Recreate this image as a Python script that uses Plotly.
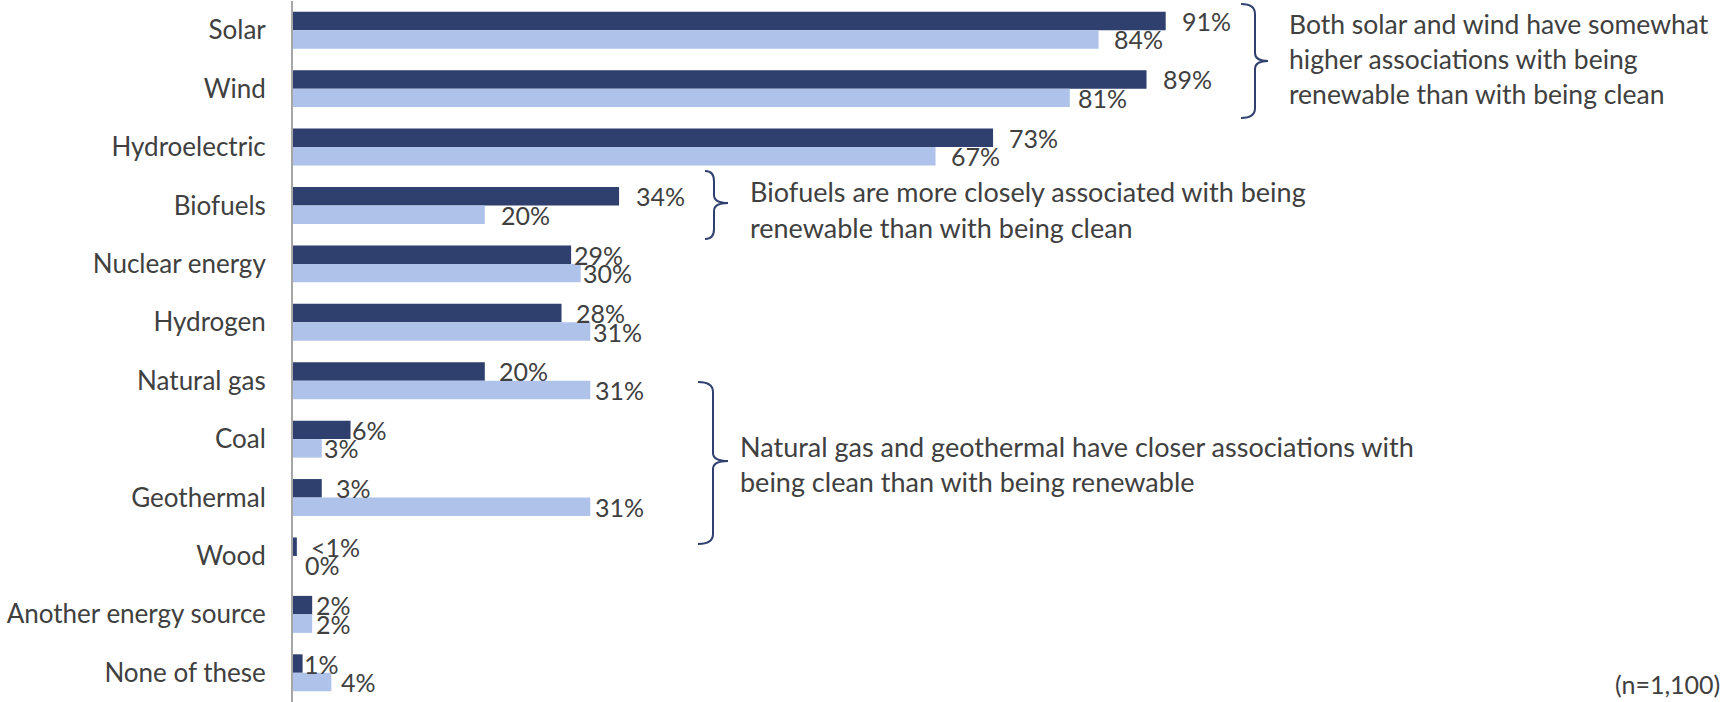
import plotly.graph_objects as go

# ---------------- data ----------------
categories = ["Solar", "Wind", "Hydroelectric", "Biofuels", "Nuclear energy", "Hydrogen",
              "Natural gas", "Coal", "Geothermal", "Wood", "Another energy source", "None of these"]
renewable = [91, 89, 73, 34, 29, 28, 20, 6, 3, 0.4, 2, 1]
renewable_labels = ["91%", "89%", "73%", "34%", "29%", "28%", "20%", "6%", "3%", "<1%", "2%", "1%"]
clean = [84, 81, 67, 20, 30, 31, 31, 3, 31, 0, 2, 4]
clean_labels = ["84%", "81%", "67%", "20%", "30%", "31%", "31%", "3%", "31%", "0%", "2%", "4%"]

note_solar_wind = ["Both solar and wind have somewhat",
                   "higher associations with being",
                   "renewable than with being clean"]
note_biofuels = ["Biofuels are more closely associated with being",
                 "renewable than with being clean"]
note_gas_geo = ["Natural gas and geothermal have closer associations with",
                "being clean than with being renewable"]
sample_note = "(n=1,100)"

# ---------------- style ----------------
W, H = 1730, 702
DARK = "#2F3F6E"
LIGHT = "#AEC2EA"
TXT = "#404040"
FONT = "Lato"
ML, MR, MT, MB = 293, 478, 1, 0
PW, PH = W - ML - MR, H - MT - MB
BARGAP = 0.367
BAR_PX = PH / len(categories) * (1 - BARGAP) / 2

# label gaps (px) between bar end and its value label, as placed in the original
renewable_gap = [15, 15, 15, 16, 2, 13, 13, 0, 13, 13, 3, 0]
clean_gap = [14, 7, 14, 15, 1, 2, 4, 1, 4, 11, 3, 9]


def px2paper(x, y):
    return (x - ML) / PW, 1 - (y - MT) / PH


def brace_path(xl, xm, xt, yt, ym, yb, r=10, r2=8):
    pts = [
        ("M", [(xl, yt)]),
        ("Q", [(xm, yt), (xm, yt + r)]),
        ("L", [(xm, ym - r2)]),
        ("Q", [(xm, ym), (xt, ym)]),
        ("Q", [(xm, ym), (xm, ym + r2)]),
        ("L", [(xm, yb - r)]),
        ("Q", [(xm, yb), (xl, yb)]),
    ]
    s = ""
    for cmd, ps in pts:
        s += cmd + " " + " ".join("%.5f,%.5f" % px2paper(a, b) for a, b in ps) + " "
    return s.strip()


fig = go.Figure()
fig.add_trace(go.Bar(
    y=categories, x=renewable, orientation="h", name="Renewable",
    marker=dict(color=DARK, line=dict(width=0)),
))
fig.add_trace(go.Bar(
    y=categories, x=clean, orientation="h", name="Clean",
    marker=dict(color=LIGHT, line=dict(width=0)),
))

annotations = []
for vals, labels, gaps, ysh in [(renewable, renewable_labels, renewable_gap, BAR_PX / 2),
                                (clean, clean_labels, clean_gap, -BAR_PX / 2)]:
    for cat, v, lab, g in zip(categories, vals, labels, gaps):
        annotations.append(dict(text=lab, x=v, y=cat, xref="x", yref="y",
                                xanchor="left", yanchor="middle", xshift=g, yshift=ysh,
                                showarrow=False, borderpad=0,
                                font=dict(family=FONT, size=25, color=TXT)))

shapes = []
for (xl, xm, xt, yt, ym, yb) in [
    (1241, 1255, 1268, 4, 61, 118),
    (705, 714, 728, 171, 203, 239),
    (698, 713, 728, 382, 461, 544),
]:
    shapes.append(dict(type="path", xref="paper", yref="paper",
                       path=brace_path(xl, xm, xt, yt, ym, yb),
                       line=dict(color=DARK, width=2), fillcolor="rgba(0,0,0,0)"))


def add_lines(lines, x, ys, size=27):
    for line, y in zip(lines, ys):
        xp, yp = px2paper(x, y)
        annotations.append(dict(text=line, x=xp, y=yp, xref="paper", yref="paper",
                                xanchor="left", yanchor="middle", showarrow=False,
                                font=dict(family=FONT, size=size, color=TXT)))


add_lines(note_solar_wind, 1287, [24, 59, 94], size=26.5)
add_lines(note_biofuels, 748, [191, 227])
add_lines(note_gas_geo, 738, [446, 481])

xp, yp = px2paper(1722, 684)
annotations.append(dict(text=sample_note, x=xp, y=yp, xref="paper", yref="paper",
                        xanchor="right", yanchor="middle", showarrow=False,
                        font=dict(family=FONT, size=25, color=TXT)))

fig.update_layout(
    width=W, height=H,
    margin=dict(l=ML, r=MR, t=MT, b=MB, pad=0),
    barmode="group", bargap=BARGAP, bargroupgap=0,
    plot_bgcolor="white", paper_bgcolor="white",
    showlegend=False,
    shapes=shapes, annotations=annotations,
    xaxis=dict(range=[0, 100], visible=False, fixedrange=True),
    yaxis=dict(type="category", autorange="reversed", showline=True, linecolor="#A6A6A6",
               linewidth=2, ticks="", showgrid=False, zeroline=False, fixedrange=True,
               ticklabelstandoff=20,
               tickfont=dict(family=FONT, size=26, color=TXT)),
    font=dict(family=FONT, color=TXT),
)

fig.write_html("out.html", config={"displayModeBar": False},
               post_script="document.body.style.margin='0px';document.body.style.overflow='hidden';")
